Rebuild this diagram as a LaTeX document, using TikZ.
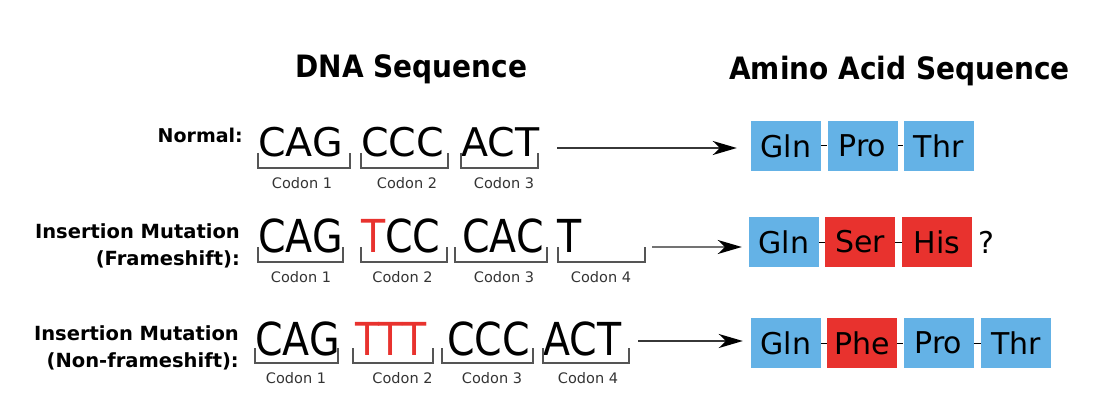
\documentclass[tikz,border=0pt]{standalone}
\usepackage{fontspec}
\setmainfont{DejaVu Sans}
\usetikzlibrary{arrows.meta}
\definecolor{aablue}{RGB}{100,178,230}
\definecolor{aared}{RGB}{232,50,46}
\definecolor{brk}{RGB}{85,85,85}
\definecolor{arr}{RGB}{55,55,55}
\newcommand{\dnafont}{\fontsize{39.5pt}{40pt}\selectfont}
\newcommand{\stretchy}[1]{\scalebox{1}[1.15]{#1}}
\tikzset{
  title/.style={anchor=base, inner sep=0pt, font=\fontsize{28pt}{30pt}\selectfont\bfseries},
  rowlabel/.style={anchor=east, inner sep=0pt, align=right, font=\fontsize{19.5pt}{27pt}\selectfont\bfseries},
  codon/.style={anchor=base west, inner sep=0pt, font=\dnafont},
  codonlbl/.style={anchor=base, inner sep=0pt, text=black!80, font=\fontsize{14.5pt}{15pt}\selectfont},
  bracket/.style={draw=brk, line width=1.5pt},
  aa/.style={minimum width=70pt, minimum height=50pt, inner sep=0pt, font=\fontsize{30pt}{30pt}\selectfont},
  aab/.style={aa, fill=aablue},
  aar/.style={aa, fill=aared},
  link/.style={draw=black, line width=1pt},
  translate/.style={draw=arr, line width=2pt, -{Stealth[length=24pt,width=14pt,inset=7pt,color=black]}, shorten >=14pt}
}
\begin{document}
\begin{tikzpicture}[x=1pt,y=-1pt]
\useasboundingbox (0,0) rectangle (1100,414);
% titles
\node[title] (t1) at (411.5,78) {\scalebox{1}[1.1]{DNA Sequence}};
\node[title] (t2) at (899.5,80) {\scalebox{1}[1.1]{Amino Acid Sequence}};

% ---------------- row 1
\node[anchor=base east, inner sep=0pt, font=\fontsize{19pt}{27pt}\selectfont\bfseries] (l1) at (243,143) {Normal:};
\node[codon] (r1c1) at (258,157) {CAG};
\node[codon] (r1c2) at (361,157) {CCC};
\node[codon] (r1c3) at (461,157) {ACT};
\draw[bracket] (258,153) |- (350,168) -- (350,153);
\draw[bracket] (361,153) |- (448,168) -- (448,153);
\draw[bracket] (461,153) |- (538,168) -- (538,153);
\node[codonlbl] (r1n1) at (302,189) {Codon 1};
\node[codonlbl] (r1n2) at (407,189) {Codon 2};
\node[codonlbl] (r1n3) at (504,189) {Codon 3};
\node[aab] (r1a1) at (786,146) {Gln};
\node[aab] (r1a2) at (862.5,146) {Pro};
\node[aab] (r1a3) at (938.5,146) {Thr};
\draw[link] (r1a1) -- (r1a2);
\draw[link] (r1a2) -- (r1a3);
\coordinate (s1) at (557,148);
\draw[translate] (s1) -- (s1 -| r1a1.west);

% ---------------- row 2
\node[rowlabel] (l2) at (240,245.5) {Insertion Mutation\\(Frameshift):};
\node[codon] (r2c1) at (258,252) {\stretchy{CAG}};
\node[codon] (r2c2) at (361,252) {\stretchy{\textcolor{aared}{T}CC}};
\node[codon] (r2c3) at (462,252) {\stretchy{CAC}};
\node[codon] (r2c4) at (557,252) {\stretchy{T}};
\draw[bracket] (258,247) |- (343,262) -- (343,247);
\draw[bracket] (361,247) |- (447,262) -- (447,247);
\draw[bracket] (455,247) |- (547,262) -- (547,247);
\draw[bracket] (558,247) |- (645,262) -- (645,247);
\node[codonlbl] (r2n1) at (301,282) {Codon 1};
\node[codonlbl] (r2n2) at (402.5,282) {Codon 2};
\node[codonlbl] (r2n3) at (504,282) {Codon 3};
\node[codonlbl] (r2n4) at (601,282) {Codon 4};
\node[aab] (r2a1) at (784,242) {Gln};
\node[aar] (r2a2) at (860,242) {Ser};
\node[aar] (r2a3) at (937,242) {His};
\draw[link] (r2a1) -- (r2a2);
\draw[link] (r2a2) -- (r2a3);
\node[inner sep=0pt, font=\fontsize{30pt}{30pt}\selectfont] (q) at (986,242) {?};
\coordinate (s2) at (652,247);
\draw[translate, draw=black!55, shorten >=7pt] (s2) -- (s2 -| r2a1.west);

% ---------------- row 3
\node[rowlabel] (l3) at (239,347.5) {Insertion Mutation\\(Non-frameshift):};
\node[codon] (r3c1) at (255,355) {\stretchy{CAG}};
\node[codon, text=aared] (r3c2) at (355,355) {\stretchy{TTT}};
\node[codon] (r3c3) at (447,355) {\stretchy{CCC}};
\node[codon] (r3c4) at (543,355) {\stretchy{ACT}};
\draw[bracket] (255,348) |- (338,363) -- (338,348);
\draw[bracket] (353,348) |- (433,363) -- (433,348);
\draw[bracket] (442,348) |- (533,363) -- (533,348);
\draw[bracket] (543,348) |- (629,363) -- (629,348);
\node[codonlbl] (r3n1) at (296,383) {Codon 1};
\node[codonlbl] (r3n2) at (402.5,383) {Codon 2};
\node[codonlbl] (r3n3) at (492,383) {Codon 3};
\node[codonlbl] (r3n4) at (588,383) {Codon 4};
\node[aab] (r3a1) at (786,343) {Gln};
\node[aar] (r3a2) at (862,343) {Phe};
\node[aab] (r3a3) at (938.5,343) {Pro};
\node[aab] (r3a4) at (1016,343) {Thr};
\draw[link] (r3a1) -- (r3a2);
\draw[link] (r3a2) -- (r3a3);
\draw[link] (r3a3) -- (r3a4);
\coordinate (s3) at (638,341);
\draw[translate, shorten >=8pt] (s3) -- (s3 -| r3a1.west);
\end{tikzpicture}
\end{document}
